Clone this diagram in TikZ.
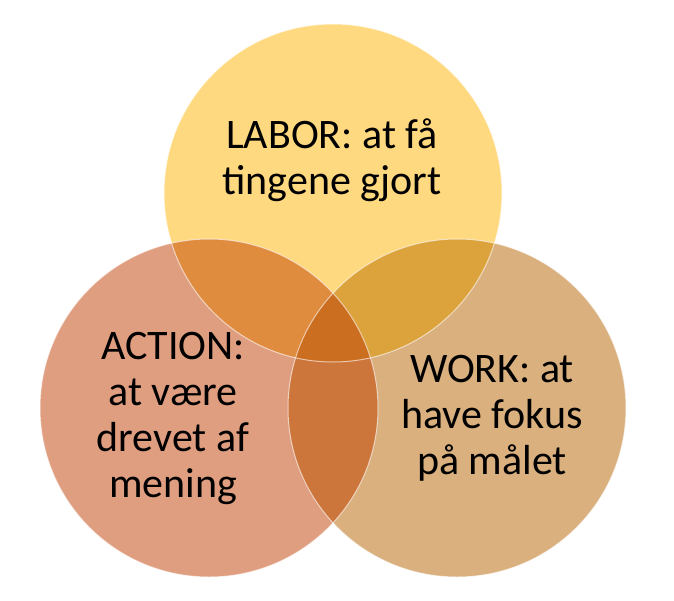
\documentclass[tikz,border=0pt]{standalone}
\usepackage{fontspec}
\setmainfont{Carlito}
\usepackage{tikz}

\definecolor{laborfill}{HTML}{FFD97F}
\definecolor{actionfill}{HTML}{E09E80}
\definecolor{workfill}{HTML}{D9B07E}
\definecolor{laboraction}{HTML}{E08C3F}
\definecolor{laborwork}{HTML}{DCA33D}
\definecolor{actionwork}{HTML}{CC763C}
\definecolor{midtefill}{HTML}{CC6E20}

\begin{document}
\begin{tikzpicture}[x=1pt,y=-1pt,
    venntext/.style={align=center,inner sep=0pt,text=black,
      font=\fontsize{42}{46}\selectfont},
    kant/.style={draw=white,draw opacity=0.6,line width=1pt}]

    \useasboundingbox (0,0) rectangle (674,600);
    \def\r{169}

    % Circle centres
    \coordinate (labor) at (333,193);
    \coordinate (action) at (209,408);
    \coordinate (work) at (457,408);

    \fill[laborfill] (labor) circle (\r);
    \fill[actionfill] (action) circle (\r);
    \fill[workfill] (work) circle (\r);

    % Overlaps
    \begin{scope}
        \clip (labor) circle (\r);
        \fill[laboraction] (action) circle (\r);
        \fill[laborwork] (work) circle (\r);
    \end{scope}
    \begin{scope}
        \clip (action) circle (\r);
        \fill[actionwork] (work) circle (\r);
    \end{scope}
    \begin{scope}
        \clip (labor) circle (\r);
        \clip (action) circle (\r);
        \fill[midtefill] (work) circle (\r);
    \end{scope}

    \draw[kant] (labor) circle (\r);
    \draw[kant] (action) circle (\r);
    \draw[kant] (work) circle (\r);

    % Label the circles
    \node[venntext] (labortxt) at (332,160) {LABOR: at få\\tingene gjort};
    \node[venntext] (actiontxt) at (173,418) {ACTION:\\at være\\drevet af\\mening};
    \node[venntext] (worktxt) at (492,418) {WORK: at\\have fokus\\på målet};

\end{tikzpicture}
\end{document}
